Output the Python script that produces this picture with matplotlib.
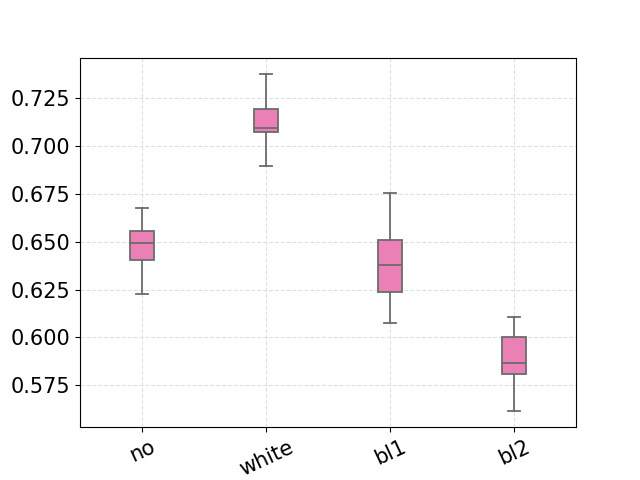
import matplotlib
matplotlib.use("Agg")
import matplotlib.pyplot as plt

labels = ["no", "white", "bl1", "bl2"]
whislo = [0.6226, 0.6895, 0.6074, 0.5619]
q1 = [0.6403, 0.7072, 0.6236, 0.5807]
med = [0.6492, 0.7093, 0.6377, 0.5865]
q3 = [0.6555, 0.7193, 0.6508, 0.6001]
whishi = [0.6675, 0.7375, 0.6753, 0.6106]

stats = [dict(label=l, whislo=a, q1=b, med=c, q3=d, whishi=e, fliers=[])
         for l, a, b, c, d, e in zip(labels, whislo, q1, med, q3, whishi)]

fig, ax = plt.subplots(figsize=(6.4, 4.8))
line_c = "#6b6b6b"
ax.bxp(stats, widths=0.2, patch_artist=True,
       boxprops=dict(facecolor="#ea80b5", edgecolor=line_c, linewidth=1.3),
       medianprops=dict(color=line_c, linewidth=1.3),
       whiskerprops=dict(color=line_c, linewidth=1.3),
       capprops=dict(color=line_c, linewidth=1.3))
ax.grid(True, linestyle="--", color="#e0e0e0", linewidth=0.8)
ax.set_axisbelow(True)
ax.set_xlim(0.5, 4.5)
ax.tick_params(axis="both", labelsize=15)
plt.setp(ax.get_xticklabels(), rotation=25)
ax.set_yticks([0.575, 0.6, 0.625, 0.65, 0.675, 0.7, 0.725])
ax.set_ylim(0.5532, 0.7460)
plt.savefig("out.png", dpi=100)
